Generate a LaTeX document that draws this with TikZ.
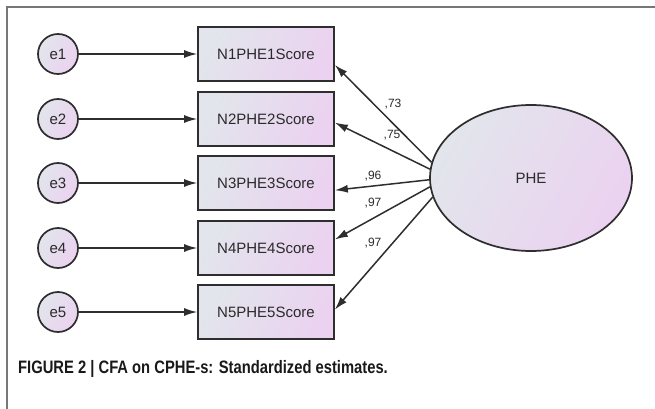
\documentclass[tikz,border=0pt]{standalone}
\usepackage{fontspec}
\setmainfont{Liberation Sans}
\newfontfamily\capfont[FakeStretch=0.82]{Liberation Sans}
\usetikzlibrary{arrows.meta,shapes.geometric}
\definecolor{lineC}{HTML}{2E2E2E}
\definecolor{frameC}{HTML}{777777}
\definecolor{fillA}{HTML}{E2E5EC}
\definecolor{fillB}{HTML}{EBD2F0}
\definecolor{txtC}{HTML}{2A2A2A}
\tikzset{
  x=1pt, y=-1pt,
  shade box/.style={shading=axis, left color=fillA, right color=fillB, shading angle=60},
  errnode/.style={circle, draw=lineC, line width=1.7pt, minimum size=40pt, inner sep=0pt,
    shade box, font=\fontsize{15}{17}\selectfont, text=txtC},
  obsnode/.style={rectangle, draw=lineC, line width=1.7pt, minimum width=136pt, minimum height=54pt,
    inner sep=0pt, shade box, font=\fontsize{15}{17}\selectfont, text=txtC},
  latnode/.style={ellipse, draw=lineC, line width=1.7pt, minimum width=202pt, minimum height=146pt,
    inner sep=0pt, shade box, font=\fontsize{15}{17}\selectfont, text=txtC},
  conn/.style={draw=lineC, line width=1.5pt, -{Latex[length=13pt,width=8pt]}},
  lbl/.style={font=\fontsize{12}{14}\selectfont, text=txtC, inner sep=0pt},
}
\begin{document}
\begin{tikzpicture}
\useasboundingbox (0,0) rectangle (655,409);
\fill[white] (0,0) rectangle (655,409);
\draw[frameC, line width=2pt] (7,409) -- (7,7) -- (655,7);

\node[errnode] (e1) at (58,54) {e1};
\node[errnode] (e2) at (58,119) {e2};
\node[errnode] (e3) at (58,183) {e3};
\node[errnode] (e4) at (58,248) {e4};
\node[errnode] (e5) at (58,312) {e5};

\node[obsnode] (n1) at (266,54) {N1PHE1Score};
\node[obsnode] (n2) at (266,119) {N2PHE2Score};
\node[obsnode] (n3) at (266,183) {N3PHE3Score};
\node[obsnode] (n4) at (266,248) {N4PHE4Score};
\node[obsnode] (n5) at (266,312) {N5PHE5Score};

\node[latnode] (phe) at (531,178) {PHE};

\foreach \i in {1,...,5}{\draw[conn] (e\i) -- (n\i);}

\draw[conn] (phe.171) -- (n1.-9);
\draw[conn] (phe.175) -- (n2.-3);
\draw[conn] (phe.181) -- (n3.-6);
\draw[conn] (phe.185) -- (n4.7);
\draw[conn] (phe.191) -- (n5.2);

\node[lbl] (l1) at (393,104) {,73};
\node[lbl] (l2) at (392,135) {,75};
\node[lbl] (l3) at (373,176) {,96};
\node[lbl] (l4) at (373,203) {,97};
\node[lbl] (l5) at (373,243) {,97};

\node[anchor=base west, inner sep=0pt, font=\capfont\bfseries\fontsize{18}{20}\selectfont, text=black!90] (cap) at (18,373)
  {FIGURE 2 | CFA on CPHE-s: Standardized estimates.};
\end{tikzpicture}
\end{document}
